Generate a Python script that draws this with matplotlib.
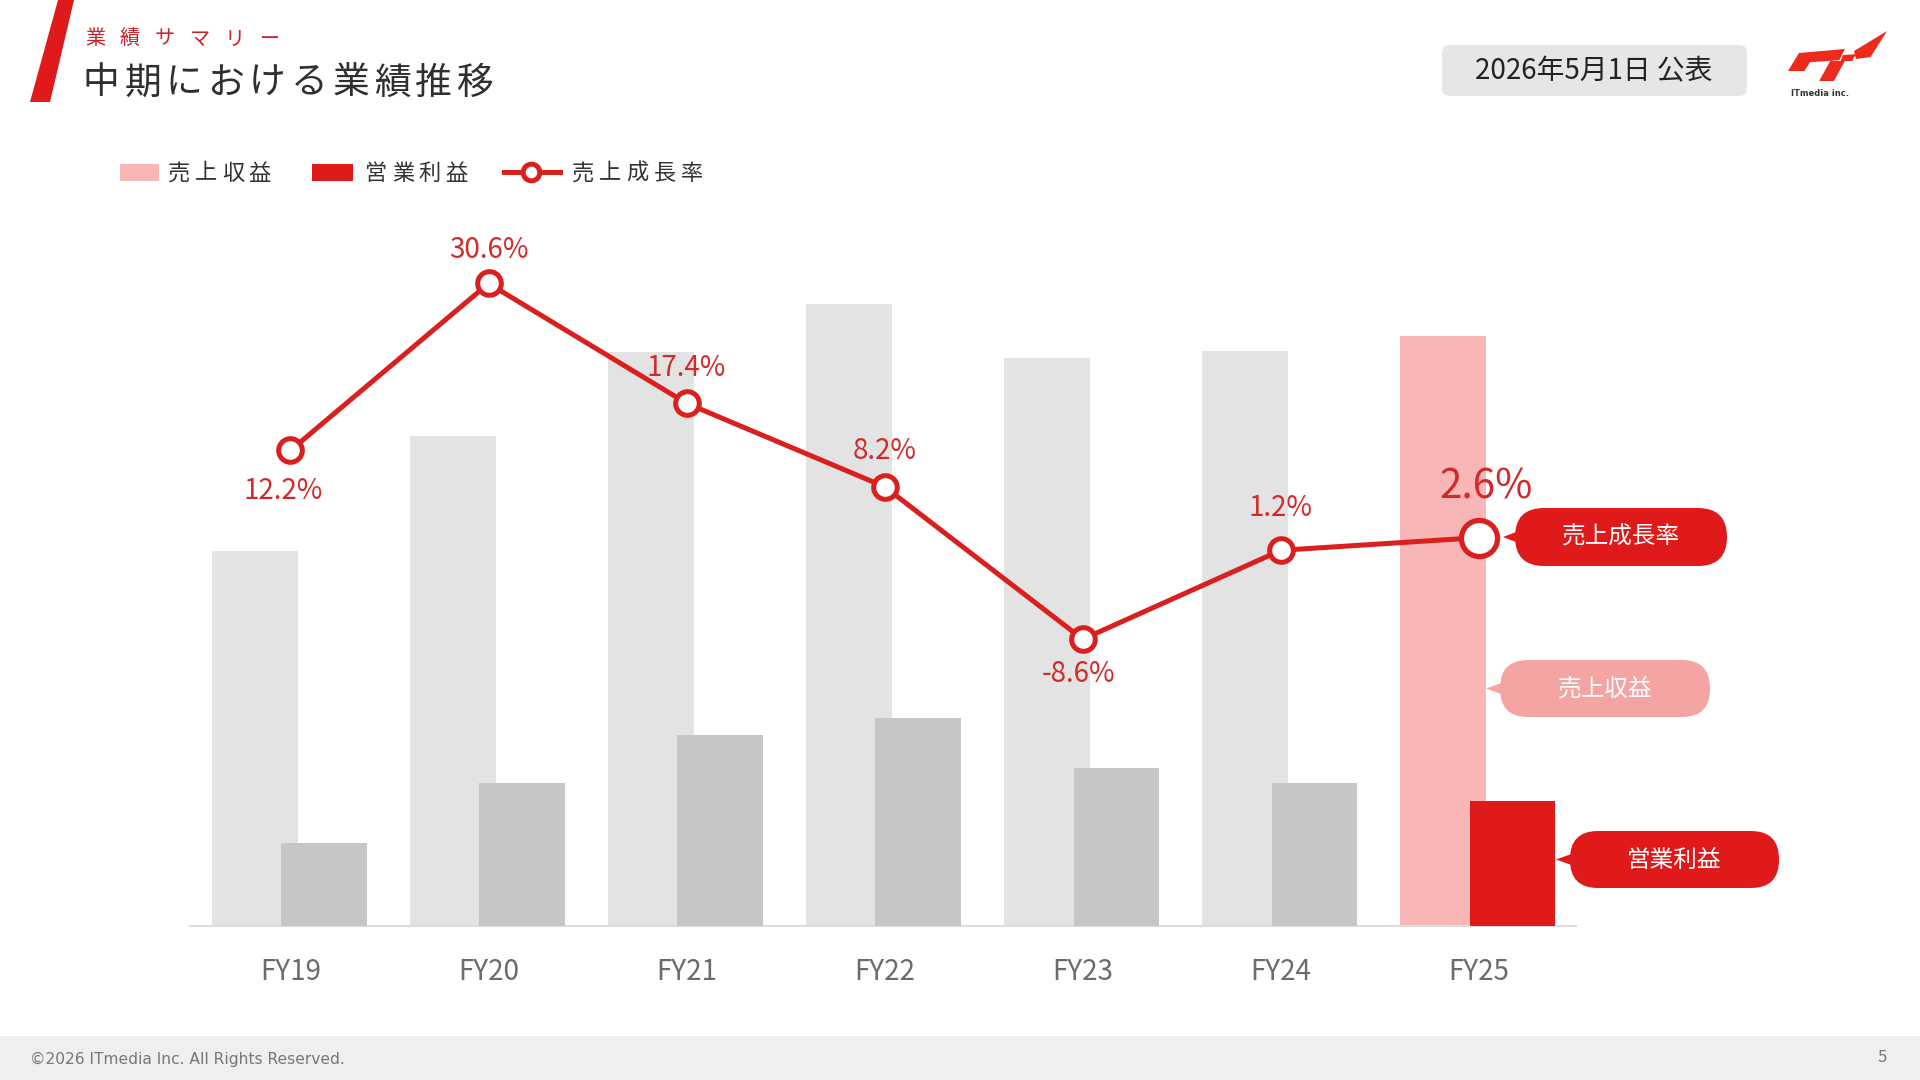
import numpy as np
import matplotlib as mpl
mpl.use("Agg")
import matplotlib.pyplot as plt
from matplotlib.patches import FancyBboxPatch, Polygon, Rectangle
from matplotlib.lines import Line2D

plt.rcParams['font.family'] = ['Noto Sans CJK JP', 'DejaVu Sans']

# data (revenue / operating income in 百万円, growth in %)
years = ['FY19', 'FY20', 'FY21', 'FY22', 'FY23', 'FY24', 'FY25']
revenue = [5355, 7000, 8208, 8890, 8120, 8225, 8440]
op_income = [1190, 2048, 2730, 2975, 2258, 2048, 1785]
growth = [12.2, 30.6, 17.4, 8.2, -8.6, 1.2, 2.6]
growth_labels = ['12.2%', '30.6%', '17.4%', '8.2%', '-8.6%', '1.2%', '2.6%']

RED = '#E01A1A'
LINE_RED = '#DA1F1F'
TXT_RED = '#D22A2A'
PINK = '#F8B7B6'
GREY_L = '#E3E3E3'
GREY_D = '#C6C6C6'

fig = plt.figure(figsize=(19.2, 10.8), dpi=100)
fig.patch.set_facecolor('white')

# overlay in pixel coords for the slide furniture
ov = fig.add_axes([0, 0, 1, 1], zorder=0)
ov.set_xlim(0, 1920)
ov.set_ylim(1080, 0)
ov.axis('off')


def spaced(x, y, s, step, **kw):
    # draw characters one by one to get the wide letter spacing
    for i, c in enumerate(s):
        ov.text(x + i * step, y, c, ha='center', va='center', **kw)


# red slash + titles
ov.add_patch(Polygon([(30, 102), (50, 102), (74, 0), (58, 0)], closed=True, color=RED, lw=0))
spaced(95, 39, '業績サマリー', 35, fontsize=14.5, color='#C8232B')
spaced(101, 83, '中期における業績推移', 41.6, fontsize=26.5, color='#2F2F2F')

# date box
ov.add_patch(FancyBboxPatch((1442, 45), 305, 51, boxstyle='round,pad=0,rounding_size=8',
                            fc='#E6E6E6', ec='none'))
ov.text(1594, 71, '2026年5月1日 公表', ha='center', va='center', fontsize=20, color='#222222')


# logo (rough), traced on a 3x crop and mapped back to slide pixels
def lp(zx, zy):
    return (1788 + (zx - 65) * 0.367, 31 + (zy - 30) * 0.4)

logo = [
    [(65, 130), (110, 130), (125, 108), (205, 103), (220, 75), (95, 85)],
    [(180, 105), (220, 105), (190, 155), (150, 155)],
    [(215, 90), (250, 88), (240, 105), (208, 105)],
    [(245, 80), (335, 30), (290, 95), (250, 100)],
]
for pts in logo:
    ov.add_patch(Polygon([lp(a, b) for a, b in pts], closed=True, color='#EE2A1C', lw=0))
ov.text(1791, 93, 'ITmedia inc.', ha='left', va='center', fontsize=6, fontweight='bold',
        color='#333333', family='DejaVu Sans')

# legend
ov.add_patch(Rectangle((120, 164), 39, 17, color=PINK, lw=0))
spaced(179, 173, '売上収益', 27, fontsize=16, color='#333333')
ov.add_patch(Rectangle((312, 164), 41, 17, color=RED, lw=0))
spaced(376, 173, '営業利益', 27, fontsize=16, color='#333333')
ov.add_line(Line2D([504, 560], [172, 172], color=LINE_RED, lw=3.6))
ov.plot([531], [172], 'o', ms=12, mfc='white', mec=LINE_RED, mew=3.6)
spaced(583, 173, '売上成長率', 27.2, fontsize=16, color='#333333')

# footer
ov.add_patch(Rectangle((0, 1036), 1920, 44, color='#EFEFEF', lw=0))
ov.text(30, 1059, '©2026 ITmedia Inc. All Rights Reserved.', ha='left', va='center',
        fontsize=11.2, color='#777777', family='DejaVu Sans')
ov.text(1882, 1058, '5', ha='center', va='center', fontsize=12, color='#777777')

# main chart
ax = fig.add_axes([190 / 1920, (1080 - 926) / 1080, (1576 - 190) / 1920, 726 / 1080], zorder=2)
ax.patch.set_alpha(0)
x = np.arange(len(years))
w = 0.433
rev_colors = [GREY_L] * (len(years) - 1) + [PINK]
op_colors = [GREY_D] * (len(years) - 1) + [RED]
ax.bar(x - 0.18, revenue, width=w, color=rev_colors, zorder=2)
ax.bar(x + 0.17, op_income, width=w, color=op_colors, zorder=3)
ax.set_xlim(-0.507, 6.49)
ax.set_ylim(0, 10377)
ax.set_xticks(x)
ax.set_xticklabels(years, fontsize=20, color='#6B6B6B')
ax.tick_params(axis='x', length=0, pad=22)
ax.set_yticks([])
for s in ['top', 'right', 'left']:
    ax.spines[s].set_visible(False)
ax.spines['bottom'].set_color('#DDDDDD')
ax.spines['bottom'].set_linewidth(1.5)

ax2 = ax.twinx()
ax2.set_ylim(-40.2, 39.8)
ax2.axis('off')
ax2.plot(x, growth, color=LINE_RED, lw=3.6, zorder=4)
ax2.plot(x[:-1], growth[:-1], 'o', ms=17, mfc='white', mec=LINE_RED, mew=3.6, zorder=5)
ax2.plot(x[-1:], growth[-1:], 'o', ms=26, mfc='white', mec=LINE_RED, mew=3.8, zorder=5)

offsets = [(-5, -29), (0, 24), (0, 25.5), (0, 25.5), (-3, -25), (0, 30.5), (5, 36.5)]
for i, lab in enumerate(growth_labels):
    big = i == len(growth_labels) - 1
    ax2.annotate(lab, (x[i], growth[i]), xytext=offsets[i], textcoords='offset points',
                 ha='center', va='center', fontsize=29 if big else 20, color=TXT_RED, zorder=6)


# callouts on the right
def callout(x0, y0, w_, h_, tip, color):
    ov.add_patch(FancyBboxPatch((x0, y0), w_, h_, boxstyle='round,pad=0,rounding_size=%d' % (h_ // 2),
                                fc=color, ec='none', zorder=3))
    ym = y0 + h_ / 2
    ov.add_patch(Polygon([(tip, ym), (x0 + 14, ym - 10), (x0 + 14, ym + 10)], closed=True,
                         color=color, lw=0, zorder=3))

callout(1515, 508, 212, 58, 1503, RED)
ov.text(1621, 537, '売上成長率', ha='center', va='center', fontsize=17, color='white', zorder=4)
callout(1500, 660, 210, 57, 1486, '#F5A4A4')
ov.text(1605, 689, '売上収益', ha='center', va='center', fontsize=17, color='white', zorder=4)
callout(1570, 831, 209, 57, 1556, RED)
ov.text(1674, 860, '営業利益', ha='center', va='center', fontsize=17, color='white', zorder=4)

plt.savefig('out.png', dpi=100)
